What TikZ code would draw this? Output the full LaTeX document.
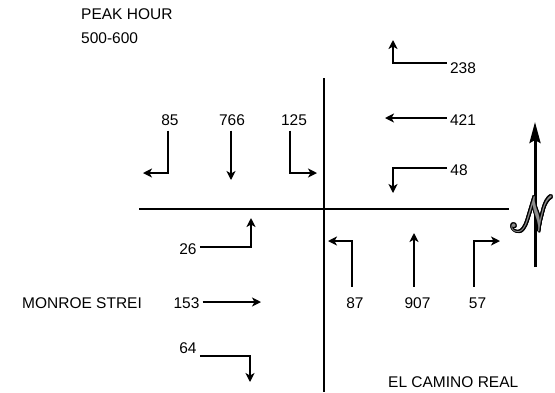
\documentclass[tikz,border=0pt]{standalone}
\usepackage{fontspec}
\setmainfont{Liberation Sans}
\usepackage{mathrsfs}
\usetikzlibrary{arrows.meta}

\begin{document}
\begin{tikzpicture}[x=1pt,y=-1pt,
  lbl/.style={inner sep=3pt,font=\fontsize{15.5}{18}\selectfont},
  road/.style={line width=1.5pt},
  flow/.style={line width=1.5pt,-{Stealth[length=9pt,width=9pt,inset=2.5pt]}},
  north/.style={line width=3pt,-{Stealth[length=21pt,width=11pt,inset=3pt]}},
  nglyph/.style={inner sep=0pt,transform shape,font=\fontsize{24.88}{25}\selectfont}]
\path[use as bounding box,fill=white] (0,0) rectangle (555,392);
% titles
\node[lbl,anchor=west,inner sep=0pt] (title) at (81,14) {PEAK HOUR};
\node[lbl,anchor=west,inner sep=0pt] (hour) at (81,38) {500-600};
\node[lbl,anchor=west,inner sep=0pt] (monroe) at (22,303) {MONROE STREI};
\node[lbl,anchor=west,inner sep=0pt] (camino) at (388,382) {EL CAMINO REAL};
% streets
\coordinate (ew1) at (139,209);
\coordinate (ew2) at (509,209);
\coordinate (ns1) at (324,78);
\coordinate (ns2) at (324,392);
\draw[road] (ew1) -- (ew2);
\draw[road] (ns1) -- (ns2);
% southbound
\node[lbl] (n85) at (170,120) {85};
\node[lbl] (n766) at (232,120) {766};
\node[lbl] (n125) at (294,120) {125};
\coordinate (t85) at (143,173);
\coordinate (t766) at (231,180);
\coordinate (t125) at (317,173);
\draw[flow] ([shift={(-2pt,-2pt)}]n85.south) |- (t85);
\draw[flow] ([shift={(-1pt,-2pt)}]n766.south) -- (t766);
\draw[flow] ([shift={(-4pt,-2pt)}]n125.south) |- (t125);
% westbound
\node[lbl] (n238) at (463,68) {238};
\node[lbl] (n421) at (463,120) {421};
\node[lbl] (n48) at (459,170.5) {48};
\coordinate (t238) at (393,40);
\coordinate (t421) at (385,118);
\coordinate (t48) at (393,193);
\draw[flow] ([yshift=5pt]n238.west) -| (t238);
\draw[flow] ([yshift=2pt]n421.west) -- (t421);
\draw[flow] ([yshift=2.5pt]n48.west) -| (t48);
% eastbound
\node[lbl] (n26) at (188,249) {26};
\node[lbl] (n153) at (186.5,303.5) {153};
\node[lbl] (n64) at (188,348.5) {64};
\coordinate (t26) at (251,218);
\coordinate (t153) at (261,302);
\coordinate (t64) at (250,382);
\draw[flow] ([yshift=2pt]n26.east) -| (t26);
\draw[flow] ([yshift=1.5pt]n153.east) -- (t153);
\draw[flow] ([yshift=-7.5pt]n64.east) -| (t64);
% northbound
\node[lbl] (n87) at (355,303.5) {87};
\node[lbl] (n907) at (417.5,303.5) {907};
\node[lbl] (n57) at (477.5,303.5) {57};
\coordinate (t87) at (328,241);
\coordinate (t907) at (414,233);
\coordinate (t57) at (500,241);
\draw[flow] ([shift={(-3pt,8pt)}]n87.north) |- (t87);
\draw[flow] ([shift={(-3.5pt,8pt)}]n907.north) -- (t907);
\draw[flow] ([shift={(-3.5pt,8pt)}]n57.north) |- (t57);
% north arrow
\coordinate (nb) at (535,267);
\coordinate (nt) at (535,122);
\draw[north] (nb) -- (nt);
\begin{scope}[shift={(533,214)},xslant=-0.3,xscale=1.7,yscale=2.0]
\foreach \a in {0,30,...,330}
  \node[nglyph,shift={(\a:0.55pt)}] at (0,0) {$\mathscr{N}$};
\node[nglyph,text=black!45] (nsym) at (0,0) {$\mathscr{N}$};
\end{scope}
\end{tikzpicture}
\end{document}
